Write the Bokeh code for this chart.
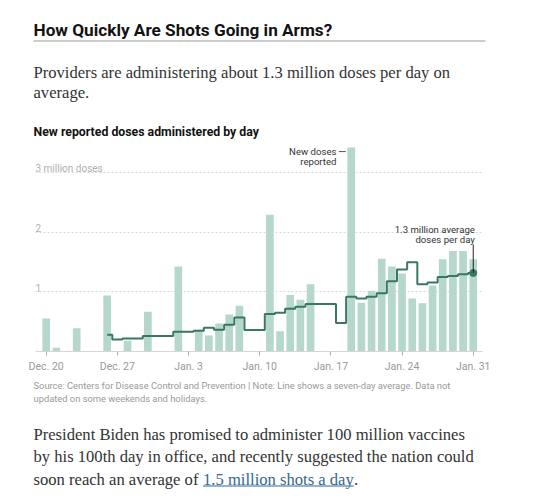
import pandas as pd
from bokeh.plotting import figure
from bokeh.layouts import column
from bokeh.models import Range1d, FixedTicker, Label, ColumnDataSource
from bokeh.embed import file_html
from bokeh.resources import INLINE

# ---------------- data ----------------
bar_dates = ["2020-12-20", "2020-12-21", "2020-12-23", "2020-12-26", "2020-12-28",
             "2020-12-30", "2021-01-02", "2021-01-04", "2021-01-05", "2021-01-06",
             "2021-01-07", "2021-01-08", "2021-01-11", "2021-01-12", "2021-01-13",
             "2021-01-14", "2021-01-15", "2021-01-19", "2021-01-20", "2021-01-21",
             "2021-01-22", "2021-01-23", "2021-01-24", "2021-01-25", "2021-01-26",
             "2021-01-27", "2021-01-28", "2021-01-29", "2021-01-30", "2021-01-31"]
bar_values = [0.555, 0.062, 0.39, 0.94, 0.18,
              0.67, 1.43, 0.365, 0.27, 0.47,
              0.62, 0.77, 2.30, 0.34, 0.95,
              0.87, 1.13, 3.43, 0.82, 1.02,
              1.56, 1.43, 1.31, 0.89, 0.81,
              1.11, 1.55, 1.69, 1.69, 1.55]

avg_dates = ["2020-12-26", "2020-12-27", "2020-12-28", "2020-12-29", "2020-12-30",
             "2020-12-31", "2021-01-01", "2021-01-02", "2021-01-03", "2021-01-04",
             "2021-01-05", "2021-01-06", "2021-01-07", "2021-01-08", "2021-01-09",
             "2021-01-10", "2021-01-11", "2021-01-12", "2021-01-13", "2021-01-14",
             "2021-01-15", "2021-01-16", "2021-01-17", "2021-01-18", "2021-01-19",
             "2021-01-20", "2021-01-21", "2021-01-22", "2021-01-23", "2021-01-24",
             "2021-01-25", "2021-01-26", "2021-01-27", "2021-01-28", "2021-01-29",
             "2021-01-30", "2021-01-31"]
avg_values = [0.28, 0.20, 0.22, 0.22, 0.26,
              0.26, 0.26, 0.33, 0.33, 0.35,
              0.40, 0.365, 0.45, 0.57, 0.36,
              0.36, 0.63, 0.65, 0.72, 0.75,
              0.80, 0.80, 0.80, 0.48, 0.92,
              0.89, 0.92, 0.98, 1.18, 1.38,
              1.50, 1.13, 1.16, 1.25, 1.27,
              1.30, 1.32]

tick_dates = ["2020-12-20", "2020-12-27", "2021-01-03", "2021-01-10",
              "2021-01-17", "2021-01-24", "2021-01-31"]
tick_labels = ["Dec. 20", "Dec. 27", "Jan. 3", "Jan. 10", "Jan. 17", "Jan. 24", "Jan. 31"]
grid_values = [1, 2, 3]
grid_labels = ["1", "2", "3 million doses"]

origin = pd.Timestamp("2020-12-20")
def day_index(dates):
    return [int((pd.Timestamp(d) - origin).days) for d in dates]

bx = day_index(bar_dates)
ax = day_index(avg_dates)
tx = day_index(tick_dates)

# ---------------- style ----------------
SANS = "Roboto"
SERIF = "Liberation Serif"
BAR = "#b6d7cb"
LINE = "#397763"
INK = "#121212"
BODY = "#333333"
GREY = "#999999"
LINK = "#326891"
W = 530

def text_fig(y0, y1):
    f = figure(width=W, height=y1 - y0, x_range=Range1d(0, W), y_range=Range1d(y1, y0),
               output_backend="svg", toolbar_location=None,
               x_axis_location=None, y_axis_location=None,
               min_border=0, frame_align=False)
    f.outline_line_color = None
    f.grid.visible = False
    return f

def txt(f, x, y, s, font, size, color, style="normal"):
    f.add_layout(Label(x=x, y=y, text=s, text_font=font, text_font_size=size,
                       text_color=color, text_font_style=style, text_baseline="middle"))

# ---------------- header ----------------
top = text_fig(0, 140)
txt(top, 33, 29, "How Quickly Are Shots Going in Arms?", SANS, "17.2px", INK, "bold")
top.segment(x0=[33], x1=[485], y0=[40.5], y1=[40.5], line_color="#999999", line_width=1)
txt(top, 33, 71.5, "Providers are administering about 1.3 million doses per day on", SERIF, "16.6px", BODY)
txt(top, 33, 91.5, "average.", SERIF, "16.6px", BODY)
txt(top, 33, 131.5, "New reported doses administered by day", SANS, "12.3px", INK, "bold")

# ---------------- chart ----------------
p = figure(frame_width=447, frame_height=211,
           min_border_left=35, min_border_right=W - 482,
           min_border_top=0, min_border_bottom=25,
           x_range=Range1d(-1.05, 42.91), y_range=Range1d(0, 3.546),
           output_backend="svg", toolbar_location=None,
           y_axis_location=None, frame_align=False)
p.outline_line_color = None

p.xgrid.grid_line_color = None
p.ygrid.ticker = FixedTicker(ticks=grid_values)
p.ygrid.grid_line_color = "#d9d9d9"
p.ygrid.grid_line_dash = "2 2"
p.ygrid.grid_line_width = 1

xa = p.xaxis[0]
xa.ticker = FixedTicker(ticks=tx)
xa.major_label_overrides = {t: l for t, l in zip(tx, tick_labels)}
xa.axis_line_color = "#d6d6d6"
xa.major_tick_line_color = "#aaaaaa"
xa.major_tick_in = 0
xa.major_tick_out = 4
xa.minor_tick_line_color = None
xa.major_label_text_color = GREY
xa.major_label_text_font = SANS
xa.major_label_text_font_size = "10.5px"
xa.major_label_standoff = 4

bars = ColumnDataSource(dict(x=bx, top=bar_values))
p.vbar(x="x", top="top", width=0.755, bottom=0, source=bars,
       fill_color=BAR, line_color=None)

avg = ColumnDataSource(dict(x=ax, y=avg_values))
p.step(x="x", y="y", mode="center", source=avg, line_color=LINE, line_width=2)
p.scatter(x=[ax[-1]], y=[avg_values[-1]], size=7, fill_color=LINE, line_color=LINE)

for v, lab in zip(grid_values, grid_labels):
    p.add_layout(Label(x=0, x_units="screen", y=v, y_units="data", y_offset=4,
                       text=lab, text_font=SANS, text_font_size="10px",
                       text_color="#b0b0b0", text_baseline="alphabetic"))

pk = bx[bar_values.index(max(bar_values))]
for yy, s in [(3.36, "New doses"), (3.20, "reported")]:
    p.add_layout(Label(x=pk - 1.45, y=yy, text=s, text_align="right",
                       text_baseline="middle", text_font=SANS, text_font_size="9.6px",
                       text_color=BODY))
p.segment(x0=[pk - 1.22], x1=[pk - 0.53], y0=[3.36], y1=[3.36],
          line_color="#555555", line_width=1)

last = ax[-1]
for yy, s in [(2.045, "1.3 million average"), (1.885, "doses per day")]:
    p.add_layout(Label(x=last + 0.16, y=yy, text=s, text_align="right",
                       text_baseline="middle", text_font=SANS, text_font_size="9.6px",
                       text_color=BODY))
p.segment(x0=[last], x1=[last], y0=[1.80], y1=[avg_values[-1]],
          line_color="#222222", line_width=1)

# ---------------- footer ----------------
bot = text_fig(376, 496)
txt(bot, 33, 384.5, "Source: Centers for Disease Control and Prevention | Note: Line shows a seven-day average. Data not", SANS, "9.35px", GREY)
txt(bot, 33, 398, "updated on some weekends and holidays.", SANS, "9.35px", GREY)
txt(bot, 33, 433.5, "President Biden has promised to administer 100 million vaccines", SERIF, "16.6px", BODY)
txt(bot, 33, 456, "by his 100th day in office, and recently suggested the nation could", SERIF, "16.6px", BODY)
txt(bot, 33, 478.5, "soon reach an average of", SERIF, "16.6px", BODY)
txt(bot, 202.5, 478.5, "1.5 million shots a day", SERIF, "16.6px", LINK)
txt(bot, 353.5, 478.5, ".", SERIF, "16.6px", BODY)
bot.segment(x0=[202.5], x1=[353.3], y0=[485.5], y1=[485.5], line_color=LINK, line_width=1)

layout = column(top, p, bot, spacing=0)
open("out.html", "w").write(file_html(layout, INLINE))
